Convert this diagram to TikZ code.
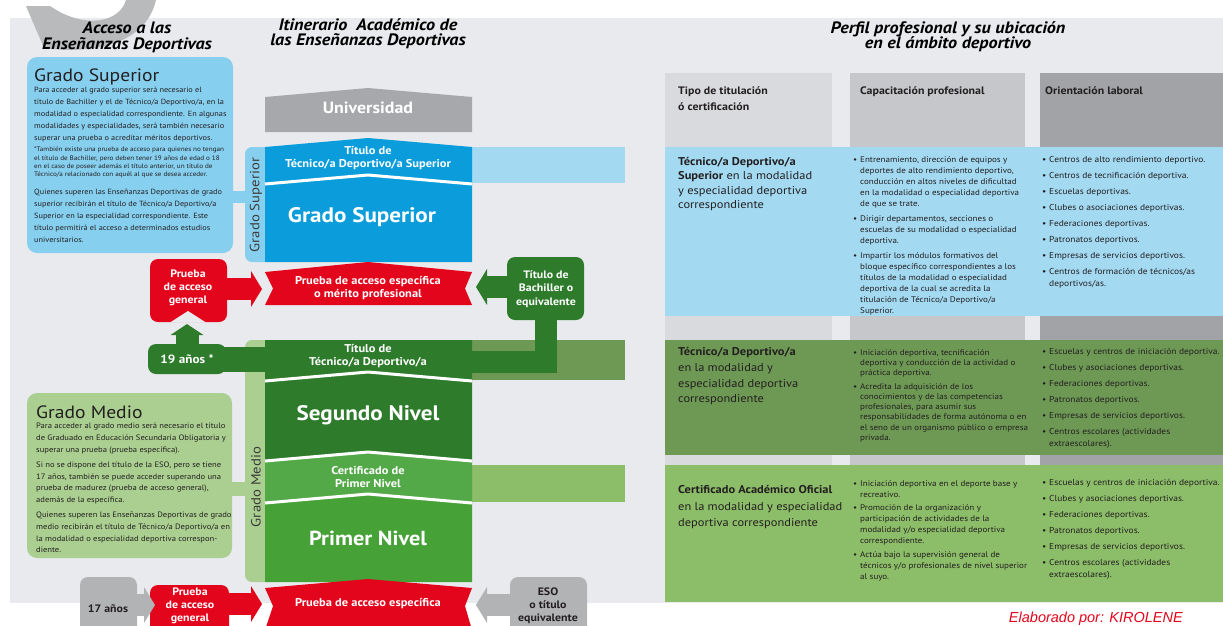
\documentclass[tikz,border=0pt]{standalone}
\usepackage{fontspec}
\setmainfont{PT Sans}[FakeStretch=1.1]
\newfontfamily\credfont{Liberation Sans}
\usepackage{tikz}
\usetikzlibrary{arrows.meta}

\definecolor{panelgrey}{HTML}{E9EAEE}
\definecolor{decogrey}{HTML}{B9BABC}
\definecolor{infoblue}{HTML}{86CFEF}
\definecolor{blockblue}{HTML}{0A9CDB}
\definecolor{bandblue}{HTML}{A3DAF2}
\definecolor{unigrey}{HTML}{A6A8AB}
\definecolor{acred}{HTML}{E3051B}
\definecolor{dkgreen}{HTML}{2E7B2B}
\definecolor{certgreen}{HTML}{53A947}
\definecolor{primgreen}{HTML}{46A237}
\definecolor{olive}{HTML}{6E9955}
\definecolor{ltgreen}{HTML}{8CBD68}
\definecolor{infogreen}{HTML}{AACF90}
\definecolor{boxgrey}{HTML}{B2B3B5}
\definecolor{hdone}{HTML}{D9DADD}
\definecolor{hdtwo}{HTML}{C5C7CA}
\definecolor{hdthree}{HTML}{A2A3A6}
\definecolor{darktext}{HTML}{231F20}
\definecolor{labgrey}{HTML}{3C3C3B}

\newcommand{\tbul}{\makebox[7pt][l]{\textbullet}}
\newcommand{\tind}{\hspace*{7pt}}
\newcommand{\salidas}{\tbul Escuelas y centros de iniciación deportiva.\\[4pt]
\tbul Clubes y asociaciones deportivas.\\[4pt]
\tbul Federaciones deportivas.\\[4pt]
\tbul Patronatos deportivos.\\[4pt]
\tbul Empresas de servicios deportivos.\\[4pt]
\tbul Centros escolares (actividades\\\tind extraescolares).}

\begin{document}
\begin{tikzpicture}
  [x=1pt,y=-1pt,every node/.style={inner sep=0pt,text=white},
   head/.style={font=\bfseries\itshape\fontsize{16.5}{15.5}\selectfont,align=center,text=black,anchor=north},
   blocklab/.style={font=\bfseries\fontsize{11.3}{13}\selectfont,align=center},
   biglab/.style={font=\bfseries\fontsize{21}{24}\selectfont},
   sidelab/.style={font=\bfseries\fontsize{10.8}{13.2}\selectfont,align=center},
   darklab/.style={sidelab,text=darktext},
   vlab/.style={rotate=90,text=labgrey,font=\fontsize{13.4}{16}\selectfont},
   infotitle/.style={anchor=base west,text=darktext,font=\fontsize{17.8}{19}\selectfont},
   info/.style={anchor=north west,align=left,text=darktext},
   cell/.style={anchor=north west,align=left,text=darktext,font=\fontsize{8.2}{11}\selectfont},
   list/.style={cell,font=\fontsize{8.6}{12}\selectfont},
   kind/.style={cell,font=\fontsize{11.3}{14.5}\selectfont},
   sep/.style={draw=white,line width=3pt},
   fat/.style={line width=22pt,-{Triangle[width=36pt,length=11pt,line width=0pt]}},
   fatup/.style={line width=23pt,-{Triangle[width=33pt,length=11pt,line width=0pt]}}]

  \useasboundingbox (0,0) rectangle (1223,625);
  \clip (0,0) rectangle (1223,625);
  \fill[white] (0,0) rectangle (1223,625);
  \fill[panelgrey] (10,18) rectangle (1223,603);
  \fill[decogrey] (26,6) -- (44,48) .. controls (85,54) and (145,48) .. (156,0)
    -- (126,0) .. controls (120,22) and (85,30) .. (50,6) -- cycle;

  % headings
  \node[head] (hacc) at (127,22) {Acceso a las\\Enseñanzas Deportivas};
  \node[head] (hitin) at (368,18) {Itinerario\ \ Académico de\\las Enseñanzas Deportivas};
  \node[head] (hperf) at (948,21) {Perfil profesional y su ubicación\\en el ámbito deportivo};

  % info boxes and side strips
  \fill[infoblue,rounded corners=10] (27,57) rectangle (233,253);
  \fill[infoblue] (230,191) rectangle (247,203);
  \fill[infoblue,rounded corners=7] (245,147) rectangle (272,262);
  \fill[infogreen,rounded corners=10] (27,393) rectangle (232,558);
  \fill[infogreen] (229,482) rectangle (247,496);
  \fill[infogreen,rounded corners=7] (245,340) rectangle (272,582);

  % table
  \fill[hdone] (665,73) rectangle (832,602);
  \fill[hdtwo] (850,73) rectangle (1025,602);
  \fill[hdthree] (1040,73) rectangle (1223,602);
  \fill[bandblue] (665,147) rectangle (1223,316);
  \fill[olive] (665,340) rectangle (1223,455);
  \fill[ltgreen] (665,465) rectangle (1223,602);
  \fill[bandblue] (472,147) rectangle (625,183);
  \fill[olive] (472,340) rectangle (625,380);
  \fill[ltgreen] (472,465) rectangle (625,502);

  % central column
  \fill[unigrey] (265,97) -- (368,88) -- (472,97) -- (472,132) -- (265,132) -- cycle;
  \fill[blockblue] (265,147) -- (368,138) -- (472,147) -- (472,262) -- (265,262) -- cycle;
  \fill[acred] (265,272) -- (368,262) -- (472,272) -- (465,288.5) -- (472,305)
    -- (265,305) -- (273,288.5) -- cycle;
  \fill[dkgreen] (265,340) -- (472,340) -- (472,461) -- (368,452) -- (265,461) -- cycle;
  \fill[certgreen] (265,461) -- (368,452) -- (472,461) -- (472,503) -- (368,494) -- (265,503) -- cycle;
  \fill[primgreen] (265,503) -- (368,494) -- (472,503) -- (472,582) -- (265,582) -- cycle;
  \fill[acred] (265,588) -- (368,579) -- (472,588) -- (465,606) -- (472,630)
    -- (265,630) -- (273,606) -- cycle;
  \foreach \y in {184,381,461,503}
    \draw[sep] (265,\y) -- (368,\y-9) -- (472,\y);

  % side boxes
  \fill[acred,rounded corners=8] (150,259) rectangle (227,322);
  \fill[panelgrey] (170,322.5) -- (188,311) -- (206,322.5) -- cycle;
  \fill[dkgreen,rounded corners=8] (148,344) rectangle (226,374);
  \fill[dkgreen,rounded corners=8] (507,257) rectangle (584,320);
  \fill[boxgrey,rounded corners=8] (80,577) rectangle (137,640);
  \fill[acred,rounded corners=8] (150,585) rectangle (229,640);
  \fill[boxgrey,rounded corners=8] (510,577) rectangle (587,640);

  \coordinate (pgsupE) at (220,289);   \coordinate (supL) at (262,289);
  \coordinate (bachW) at (512,287);    \coordinate (supR) at (476,287);
  \coordinate (anosN) at (187,346);    \coordinate (pgsupS) at (187,324);
  \coordinate (anosE) at (220,359.5);  \coordinate (tittecW) at (266,359.5);
  \coordinate (bachS) at (546,318);    \coordinate (tittecE) at (472,362);
  \coordinate (diecE) at (132,605);    \coordinate (pginfW) at (155,605);
  \coordinate (pginfE) at (222,604);   \coordinate (infL) at (262,604);
  \coordinate (esoW) at (515,605);     \coordinate (infR) at (476,605);

  \foreach \from/\to/\c in {pgsupE/supL/acred,bachW/supR/dkgreen,diecE/pginfW/boxgrey,
                            pginfE/infL/acred,esoW/infR/boxgrey}
    \draw[fat,\c] (\from) -- (\to);
  \draw[fatup,dkgreen] (anosN) -- (pgsupS);
  \draw[dkgreen,line width=25pt] (anosE) -- (tittecW);
  \draw[dkgreen,line width=22pt] (bachS) |- (tittecE);

  % block labels
  \node[font=\bfseries\fontsize{16.3}{18}\selectfont] (uni) at (368,108) {Universidad};
  \node[blocklab] (titsup) at (368,158) {Título de\\Técnico/a Deportivo/a Superior};
  \node[biglab] (gsup) at (362,217) {Grado Superior};
  \node[blocklab] (espsup) at (368,288) {Prueba de acceso específica\\o mérito profesional};
  \node[blocklab] (tittec) at (368,356) {Título de\\Técnico/a Deportivo/a};
  \node[biglab] (segundo) at (368,415) {Segundo Nivel};
  \node[blocklab] (cert) at (368,477) {Certificado de\\Primer Nivel};
  \node[biglab,font=\bfseries\fontsize{20.3}{24}\selectfont] (primer) at (368,538) {Primer Nivel};
  \node[blocklab] (espinf) at (368,604) {Prueba de acceso específica};
  \node[vlab] (vsup) at (256,205) {Grado Superior};
  \node[vlab] (vmed) at (256,487) {Grado Medio};

  \node[sidelab] (pgsup) at (188,288) {Prueba\\de acceso\\general};
  \node[sidelab,font=\bfseries\fontsize{12}{14}\selectfont] (anos) at (187,359) {19 años *};
  \node[sidelab] (bach) at (546,289) {Título de\\Bachiller o\\equivalente};
  \node[darklab] (diec) at (108,609) {17 años};
  \node[sidelab] (pginf) at (190,606) {Prueba\\de acceso\\general};
  \node[darklab] (eso) at (548,606) {ESO\\o título\\equivalente};

  % info texts
  \node[infotitle] (gstit) at (34,81) {Grado Superior};
  \node[info,font=\fontsize{7.5}{12}\selectfont] (gsone) at (34,87)
    {Para acceder al grado superior será necesario el\\título de Bachiller y el de Técnico/a Deportivo/a, en la\\modalidad o especialidad correspondiente. En algunas\\modalidades y especialidades, será también necesario\\superar una prueba o acreditar méritos deportivos.};
  \node[info,font=\fontsize{6.5}{8.2}\selectfont] (gstwo) at (34,147)
    {*También existe una prueba de acceso para quienes no tengan\\el título de Bachiller, pero deben tener 19 años de edad o 18\\en el caso de poseer además el título anterior, un título de\\Técnico/a relacionado con aquél al que se desea acceder.};
  \node[info,font=\fontsize{7.5}{12}\selectfont] (gsthree) at (34,189)
    {Quienes superen las Enseñanzas Deportivas de grado\\superior recibirán el título de Técnico/a Deportivo/a\\Superior en la especialidad correspondiente. Este\\título permitirá el acceso a determinados estudios\\universitarios.};
  \node[infotitle] (gmtit) at (36,418) {Grado Medio};
  \node[info,font=\fontsize{7.8}{11.8}\selectfont] (gmtext) at (36,423)
    {Para acceder al grado medio será necesario el título\\de Graduado en Educación Secundaria Obligatoria y\\superar una prueba (prueba específica).\\[3pt]Si no se dispone del título de la ESO, pero se tiene\\17 años, también se puede acceder superando una\\prueba de madurez (prueba de acceso general),\\además de la específica.\\[3pt]Quienes superen las Enseñanzas Deportivas de grado\\medio recibirán el título de Técnico/a Deportivo/a en\\la modalidad o especialidad deportiva correspon-\\diente.};

  % table texts
  \node[kind,font=\bfseries\fontsize{10.8}{16}\selectfont] (thone) at (678,87) {Tipo de titulación\\ó certificación};
  \node[kind,font=\bfseries\fontsize{10.8}{16}\selectfont] (thtwo) at (860,87) {Capacitación profesional};
  \node[kind,font=\bfseries\fontsize{10.8}{16}\selectfont] (ththree) at (1045,87) {Orientación laboral};

  \node[kind] (kone) at (678,157) {\textbf{Técnico/a Deportivo/a}\\\textbf{Superior} en la modalidad\\y especialidad deportiva\\correspondiente};
  \node[cell] (cone) at (853,156) {\tbul Entrenamiento, dirección de equipos y\\\tind deportes de alto rendimiento deportivo,\\\tind conducción en altos niveles de dificultad\\\tind en la modalidad o especialidad deportiva\\\tind de que se trate.\\[4pt]\tbul Dirigir departamentos, secciones o\\\tind escuelas de su modalidad o especialidad\\\tind deportiva.\\[4pt]\tbul Impartir los módulos formativos del\\\tind bloque específico correspondientes a los\\\tind títulos de la modalidad o especialidad\\\tind deportiva de la cual se acredita la\\\tind titulación de Técnico/a Deportivo/a\\\tind Superior.};
  \node[list] (oone) at (1042,156) {\tbul Centros de alto rendimiento deportivo.\\[4pt]\tbul Centros de tecnificación deportiva.\\[4pt]\tbul Escuelas deportivas.\\[4pt]\tbul Clubes o asociaciones deportivas.\\[4pt]\tbul Federaciones deportivas.\\[4pt]\tbul Patronatos deportivos.\\[4pt]\tbul Empresas de servicios deportivos.\\[4pt]\tbul Centros de formación de técnicos/as\\\tind deportivos/as.};

  \node[kind,font=\fontsize{11.3}{15.5}\selectfont] (ktwo) at (678,347) {\textbf{Técnico/a Deportivo/a}\\[1pt]en la modalidad y\\especialidad deportiva\\correspondiente};
  \node[cell,font=\fontsize{8.2}{10.3}\selectfont] (ctwo) at (853,349) {\tbul Iniciación deportiva, tecnificación\\\tind deportiva y conducción de la actividad o\\\tind práctica deportiva.\\[3pt]\tbul Acredita la adquisición de los\\\tind conocimientos y de las competencias\\\tind profesionales, para asumir sus\\\tind responsabilidades de forma autónoma o en\\\tind el seno de un organismo público o empresa\\\tind privada.};
  \node[list] (otwo) at (1042,348) {\salidas};

  \node[kind,font=\fontsize{11.3}{16}\selectfont] (kthree) at (678,485) {\textbf{Certificado Académico Oficial}\\[1pt]en la modalidad y especialidad\\deportiva correspondiente};
  \node[cell,font=\fontsize{8.2}{10.9}\selectfont] (cthree) at (853,480) {\tbul Iniciación deportiva en el deporte base y\\\tind recreativo.\\[3pt]\tbul Promoción de la organización y\\\tind participación de actividades de la\\\tind modalidad y/o especialidad deportiva\\\tind correspondiente.\\[3pt]\tbul Actúa bajo la supervisión general de\\\tind técnicos y/o profesionales de nivel superior\\\tind al suyo.};
  \node[list] (othree) at (1042,479) {\salidas};

  \node[anchor=base east,text=acred,font=\credfont\itshape\fontsize{14.5}{16}\selectfont] (credit) at (1183,622) {Elaborado por: KIROLENE};
\end{tikzpicture}
\end{document}
